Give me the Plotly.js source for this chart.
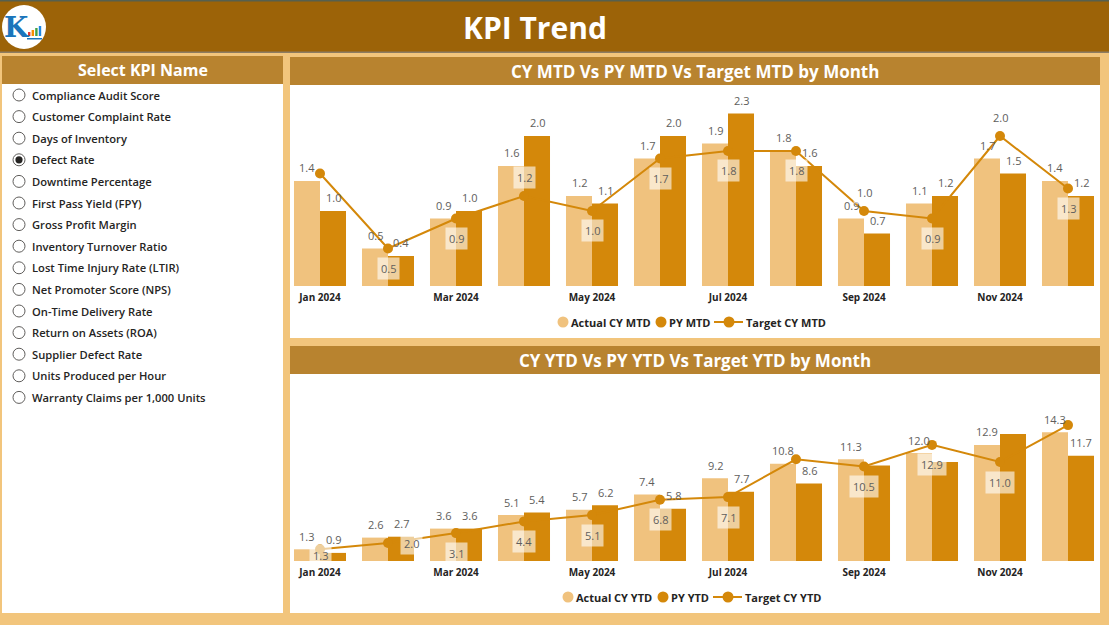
<!DOCTYPE html>
<html><head><meta charset="utf-8">
<script src="https://cdn.plot.ly/plotly-3.0.1.min.js"></script>
<style>html,body{margin:0;padding:0;background:#F2C57C;overflow:hidden}#chart{width:1109px;height:625px}</style>
</head><body><div id="chart"></div>
<script>
// ---------- DATA ----------
const months = ['Jan 2024','Feb 2024','Mar 2024','Apr 2024','May 2024','Jun 2024','Jul 2024','Aug 2024','Sep 2024','Oct 2024','Nov 2024','Dec 2024'];
const kpiNames = ['Compliance Audit Score','Customer Complaint Rate','Days of Inventory','Defect Rate','Downtime Percentage','First Pass Yield (FPY)','Gross Profit Margin','Inventory Turnover Ratio','Lost Time Injury Rate (LTIR)','Net Promoter Score (NPS)','On-Time Delivery Rate','Return on Assets (ROA)','Supplier Defect Rate','Units Produced per Hour','Warranty Claims per 1,000 Units'];
const selectedKpi = 'Defect Rate';
const pageTitle = 'KPI Trend';
const panelTitle = 'Select KPI Name';
const mtdTitle = 'CY MTD Vs PY MTD Vs Target MTD by Month';
const ytdTitle = 'CY YTD Vs PY YTD Vs Target YTD by Month';
const mtdNames = ['Actual CY MTD','PY MTD','Target CY MTD'];
const ytdNames = ['Actual CY YTD','PY YTD','Target CY YTD'];

const actualMTD = [1.4,0.5,0.9,1.6,1.2,1.7,1.9,1.8,0.9,1.1,1.7,1.4];
const pyMTD     = [1.0,0.4,1.0,2.0,1.1,2.0,2.3,1.6,0.7,1.2,1.5,1.2];
const targetMTD = [1.5,0.5,0.9,1.2,1.0,1.7,1.8,1.8,1.0,0.9,2.0,1.3];

const actualYTD = [1.3,2.6,3.6,5.1,5.7,7.4,9.2,10.8,11.3,12.0,12.9,14.3];
const pyYTD     = [0.9,2.7,3.6,5.4,6.2,5.8,7.7,8.6,10.6,11.0,14.1,11.7];
const targetYTD = [1.3,2.0,3.1,4.4,5.1,6.8,7.1,11.3,10.5,12.9,11.0,15.1];

// label placement (as auto-placed in the original)
const mtdPyLabelShown   = [1,1,1,1,1,1,1,1,1,1,1,1];
const mtdTargetLabelPos = ['none','below','below','above','below','below','below','below','above','below','above','below'];
const ytdPyLabelShown   = [1,1,1,1,1,1,1,1,0,0,0,1];
const ytdTargetLabelPos = ['below','right','below','below','below','below','below','none','below','below','below','none'];

// ---------- STYLE ----------
const W = 1109, H = 625;
const X = p => p / W, Y = p => 1 - p / H;
const C = {bg:'#F2C57C', top:'#9C6308', head:'#B8832F', actual:'#F0C27E', py:'#D4880A', line:'#D4880A', txt:'#252423', lbl:'#605E5C'};
const FONT = 'Open Sans, Noto Sans, sans-serif';

const shapes = [];
const ann = [];
function rect(x0,y0,x1,y1,color,layer){shapes.push({type:'rect',xref:'paper',yref:'paper',x0:X(x0),x1:X(x1),y0:Y(y1),y1:Y(y0),fillcolor:color,line:{width:0},layer:layer||'below'});}
function circ(cx,cy,r,fill,lc,lw,layer){shapes.push({type:'circle',xref:'paper',yref:'paper',x0:X(cx-r),x1:X(cx+r),y0:Y(cy+r),y1:Y(cy-r),fillcolor:fill,line:{color:lc||fill,width:lw||0},layer:layer||'above'});}
function txt(x,y,t,size,color,weight,xa,extra){ann.push(Object.assign({xref:'paper',yref:'paper',x:X(x),y:Y(y),text:t,showarrow:false,xanchor:xa||'center',yanchor:'middle',borderpad:0,font:{family:FONT,size:size,color:color,weight:weight||400}},extra||{}));}

// page frame
rect(0,0,W,52,C.top);
rect(0,0,W,1.5,'#56604F');
rect(0,51.5,W,53,'#8C7C62');
txt(535,27,pageTitle,30,'#FFFFFF',700);
// logo
circ(24,27,22,'#FFFFFF');
txt(17,27,'K',27,'#1B75BB',700,'center',{font:{family:'DejaVu Serif, serif',size:28,color:'#1B75BB',weight:700}});
[['#E53935',4],['#FB8C00',6],['#43A047',8],['#1E88E5',10]].forEach((b,i)=>{rect(28+i*3.6,36-b[1],30.4+i*3.6,36,b[0],'above');});
rect(27,38,42,39.5,'#1B75BB','above');

// left panel
rect(2,56,283,613,'#FFFFFF');
rect(2,56,283,84,C.head);
txt(143,70,panelTitle,16,'#FFFFFF',700);
kpiNames.forEach((k,i)=>{
  const yy = 95 + i*21.6;
  circ(19,yy,6,'#FFFFFF','#605E5C',1);
  if(k===selectedKpi) circ(19,yy,3.6,C.txt);
  txt(31,yy,k,11.2,C.txt,600,'left');
});

// chart panels
rect(290,57,1100,338,'#FFFFFF');
rect(290,57,1100,85,C.head);
txt(695,71,mtdTitle,17,'#FFFFFF',700);
rect(290,346,1100,613,'#FFFFFF');
rect(290,346,1100,374,C.head);
txt(695,360,ytdTitle,17,'#FFFFFF',700);

// legends
function legend(y,names,pos){
  circ(pos[0],y,5.5,C.actual);
  txt(pos[0]+7,y,names[0],11,C.txt,700,'left');
  circ(pos[1],y,5.5,C.py);
  txt(pos[1]+7,y,names[1],11,C.txt,700,'left');
  shapes.push({type:'line',xref:'paper',yref:'paper',x0:X(pos[2]-15),x1:X(pos[2]+14),y0:Y(y),y1:Y(y),line:{color:C.line,width:2}});
  circ(pos[2],y,5.5,C.line);
  txt(pos[2]+16,y,names[2],11,C.txt,700,'left');
}
legend(322,mtdNames,[563,661,729]);
legend(597,ytdNames,[568,663,728]);

// data labels
const half = (1-0.235)/4; // offset of each bar centre from category centre
function labels(xa,ya,act,py,tgt,pyShown,tPos,pxPerUnit){
  months.forEach((m,i)=>{
    const base = {xref:xa,yref:ya,showarrow:false,xanchor:'center',yanchor:'middle',font:{family:FONT,size:11,color:C.lbl}};
    ann.push(Object.assign({},base,{x:i-half,y:act[i],text:act[i].toFixed(1),yshift:13}));
    if(pyShown[i]) ann.push(Object.assign({},base,{x:i+half,y:py[i],text:py[i].toFixed(1),yshift:13}));
    const p = tPos[i];
    if(p!=='none'){
      const o = Object.assign({},base,{x:i,y:tgt[i],text:tgt[i].toFixed(1),bgcolor:'rgba(255,255,255,0.6)',borderpad:3});
      if(p==='below') o.yshift=-Math.min(20, tgt[i]*pxPerUnit - 6);
      if(p==='above') o.yshift=18;
      if(p==='right') o.xshift=23;
      ann.push(o);
    }
  });
}
labels('x','y',actualMTD,pyMTD,targetMTD,mtdPyLabelShown,mtdTargetLabelPos,75);
labels('x2','y2',actualYTD,pyYTD,targetYTD,ytdPyLabelShown,ytdTargetLabelPos,9);

const tickvals = months.filter((m,i)=>i%2===0);
function xax(anchor){return {domain:[X(286),X(1102)],anchor:anchor,type:'category',range:[-0.5,months.length-0.5],autorange:false,tickvals:tickvals,ticktext:tickvals,showgrid:false,zeroline:false,showline:false,ticks:'',ticklabelstandoff:4,tickfont:{family:FONT,size:10,color:C.txt,weight:700},fixedrange:true};}

const traces = [
  {type:'bar',x:months,y:actualMTD,name:mtdNames[0],marker:{color:C.actual},xaxis:'x',yaxis:'y',hoverinfo:'none'},
  {type:'bar',x:months,y:pyMTD,name:mtdNames[1],marker:{color:C.py},xaxis:'x',yaxis:'y',hoverinfo:'none'},
  {type:'scatter',mode:'lines+markers',x:months,y:targetMTD,name:mtdNames[2],line:{color:C.line,width:2},marker:{color:C.line,size:10},xaxis:'x',yaxis:'y',cliponaxis:false,hoverinfo:'none'},
  {type:'bar',x:months,y:actualYTD,name:ytdNames[0],marker:{color:C.actual},xaxis:'x2',yaxis:'y2',hoverinfo:'none'},
  {type:'bar',x:months,y:pyYTD,name:ytdNames[1],marker:{color:C.py},xaxis:'x2',yaxis:'y2',hoverinfo:'none'},
  {type:'scatter',mode:'lines+markers',x:months,y:targetYTD,name:ytdNames[2],line:{color:C.line,width:2},marker:{color:C.line,size:10},xaxis:'x2',yaxis:'y2',cliponaxis:false,hoverinfo:'none'}
];

const layout = {
  width:W,height:H,margin:{l:0,r:0,t:0,b:0},
  paper_bgcolor:C.bg,plot_bgcolor:'rgba(0,0,0,0)',
  showlegend:false,barmode:'group',bargap:0.235,bargroupgap:0,
  xaxis:xax('y'),
  yaxis:{domain:[Y(286),Y(98.5)],range:[0,2.5],visible:false,fixedrange:true},
  xaxis2:xax('y2'),
  yaxis2:{domain:[Y(561),Y(417)],range:[0,16],visible:false,fixedrange:true},
  shapes:shapes,annotations:ann,font:{family:FONT}
};
Plotly.newPlot('chart',traces,layout,{displayModeBar:false,staticPlot:true});
</script></body></html>
